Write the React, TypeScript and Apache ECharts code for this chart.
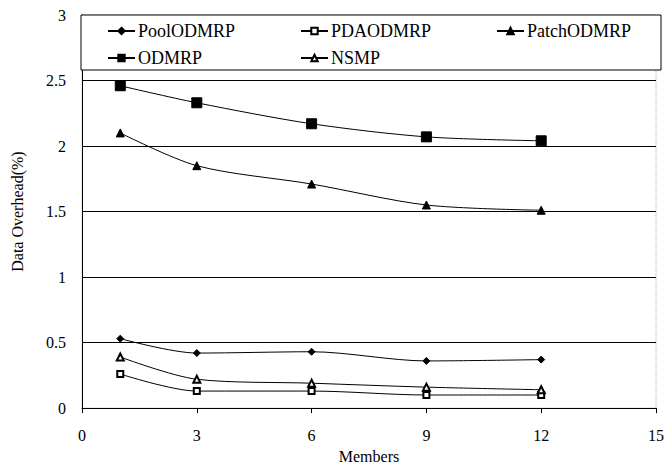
import React, { useEffect, useRef } from "react";
import * as echarts from "echarts";

const members = [1, 3, 6, 9, 12];
const poolODMRP = [0.53, 0.42, 0.43, 0.36, 0.37];
const pdaODMRP = [0.26, 0.13, 0.13, 0.1, 0.1];
const patchODMRP = [2.1, 1.85, 1.71, 1.55, 1.51];
const odmrp = [2.46, 2.33, 2.17, 2.07, 2.04];
const nsmp = [0.39, 0.22, 0.19, 0.16, 0.14];

const xTicks = [0, 3, 6, 9, 12, 15];

const FONT = "Liberation Serif";

export default function App() {
  const ref = useRef<HTMLDivElement>(null);
  useEffect(() => {
    if (!ref.current) return;
    const chart = echarts.init(ref.current, undefined, { renderer: "svg" });
    const pair = (ys: number[]) => members.map((x, i) => [x, ys[i]]);
    const mk = (name: string, ys: number[], symbol: string, size: number) => ({
      name,
      type: "line",
      data: pair(ys),
      smooth: 0.3,
      symbol,
      symbolSize: size,
      showSymbol: true,
      lineStyle: { color: "#000", width: 1 },
      itemStyle: { color: "#000", borderColor: "#000", borderWidth: 1 },
      z: 2,
    });
    const legendPos = [
      { name: "PoolODMRP", left: 107, top: 22 },
      { name: "PDAODMRP", left: 300, top: 22 },
      { name: "PatchODMRP", left: 496, top: 22 },
      { name: "ODMRP", left: 107, top: 49 },
      { name: "NSMP", left: 300, top: 49 },
    ];
    chart.setOption({
      animation: false,
      backgroundColor: "#fff",
      textStyle: { fontFamily: FONT },
      grid: {
        left: 82,
        right: 8,
        top: 15,
        bottom: 51,
        containLabel: false,
        show: true,
        borderColor: "#aaa",
        borderWidth: 1,
        borderType: "dotted",
      },
      xAxis: {
        type: "value",
        min: xTicks[0],
        max: xTicks[xTicks.length - 1],
        interval: 3,
        name: "Members",
        nameLocation: "middle",
        nameGap: 36,
        nameTextStyle: { fontFamily: FONT, fontSize: 16, color: "#000" },
        axisLine: { show: true, lineStyle: { color: "#000", width: 1 } },
        axisTick: { show: true, inside: false, length: 5, lineStyle: { color: "#000" } },
        axisLabel: { fontFamily: FONT, fontSize: 16, color: "#000", margin: 19 },
        splitLine: { show: false },
      },
      yAxis: {
        type: "value",
        min: 0,
        max: 3,
        interval: 0.5,
        name: "Data Overhead(%)",
        nameLocation: "middle",
        nameGap: 57,
        nameTextStyle: { fontFamily: FONT, fontSize: 16, color: "#000" },
        axisLine: { show: true, lineStyle: { color: "#000", width: 1 } },
        axisTick: { show: false },
        axisLabel: { fontFamily: FONT, fontSize: 16, color: "#000", margin: 16 },
        splitLine: { show: true, lineStyle: { color: "#000", width: 1 } },
      },
      graphic: [
        {
          type: "rect",
          shape: { x: 81, y: 15, width: 580, height: 55 },
          style: { fill: "#fff", stroke: "#000", lineWidth: 1 },
          z: 3,
        },
      ],
      legend: legendPos.map((l) => ({
        data: [l.name],
        left: l.left,
        top: l.top,
        padding: 0,
        itemWidth: 27,
        itemHeight: 8,
        itemGap: 4,
        z: 5,
        textStyle: { fontFamily: FONT, fontSize: 18, color: "#000", padding: [0, 0, 0, -2] },
      })),
      series: [
        mk("PoolODMRP", poolODMRP, "diamond", 7),
        mk("PDAODMRP", pdaODMRP, "emptyRect", 6),
        mk("PatchODMRP", patchODMRP, "triangle", 8),
        mk("ODMRP", odmrp, "rect", 10),
        mk("NSMP", nsmp, "emptyTriangle", 7),
      ],
    });
    return () => chart.dispose();
  }, []);
  return <div ref={ref} style={{ width: 667, height: 469, position: "absolute", left: 0, top: 0 }} />;
}
